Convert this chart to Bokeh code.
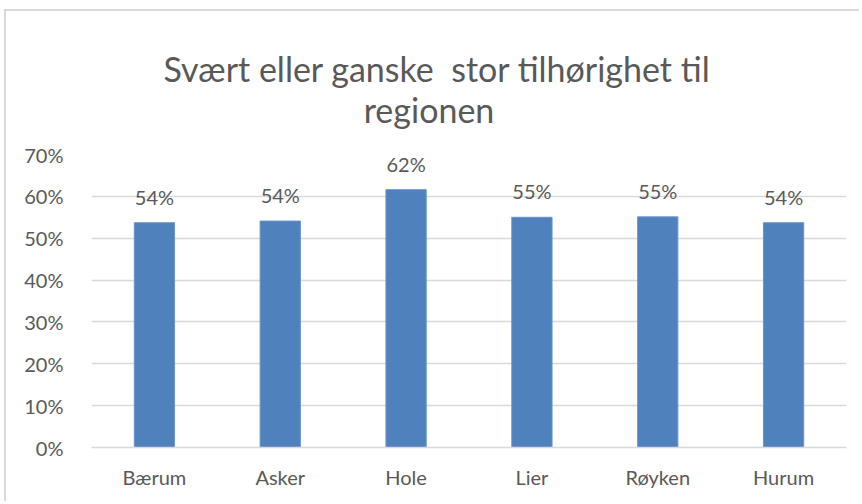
from bokeh.plotting import figure
from bokeh.models import ColumnDataSource, FactorRange, Range1d, NumeralTickFormatter, FixedTicker, Title
from bokeh.core.properties import value
from bokeh.embed import file_html
from bokeh.resources import INLINE

categories = ["Bærum", "Asker", "Hole", "Lier", "Røyken", "Hurum"]
values = [0.537, 0.541, 0.616, 0.550, 0.551, 0.537]
labels = ["54%", "54%", "62%", "55%", "55%", "54%"]
y_ticks = [0, 0.1, 0.2, 0.3, 0.4, 0.5, 0.6, 0.7]
title_line1 = "Svært eller ganske\u00a0 stor tilhørighet til"
title_line2 = "regionen"

FONT = "Lato"
GREY = "#595959"
NB = "\u00a0"

src = ColumnDataSource(dict(cat=categories, val=values, lab=labels))

p = figure(x_range=FactorRange(*categories, range_padding=0),
           y_range=Range1d(0, 0.7),
           width=855, height=492,
           min_border_left=85, min_border_right=15,
           min_border_top=143, min_border_bottom=56,
           output_backend="svg", toolbar_location=None, title=None)

p.add_layout(Title(text=title_line1 + "\n" + NB * 23 + title_line2,
                   align="left", vertical_align="top", offset=72, standoff=44,
                   text_font=FONT, text_font_size="34px", text_font_style="normal",
                   text_line_height=1.02, text_color=GREY), "above")

p.vbar(x="cat", top="val", width=0.32, source=src,
       fill_color="#4F81BD", line_color="#6A95CB", line_width=1)

p.text(x="cat", y="val", text="lab", source=src, y_offset=-26,
       text_align="center", text_baseline="middle",
       text_font=value(FONT), text_font_size="20px", text_color=GREY)

p.outline_line_color = None
p.background_fill_color = "white"
p.border_fill_color = "white"
p.styles = {"border-left": "2px solid #D9D9D9", "border-top": "2px solid #D9D9D9",
            "margin-left": "4px", "margin-top": "9px"}

p.xgrid.grid_line_color = None
p.ygrid.grid_line_color = "#D9D9D9"
p.ygrid.grid_line_width = 1.5

p.yaxis.ticker = FixedTicker(ticks=y_ticks)
p.yaxis.formatter = NumeralTickFormatter(format="0%")
p.yaxis.axis_line_color = None
p.yaxis.major_tick_line_color = None
p.yaxis.minor_tick_line_color = None
p.yaxis.major_label_standoff = 22
p.yaxis.major_label_text_font = FONT
p.yaxis.major_label_text_font_size = "20px"
p.yaxis.major_label_text_color = GREY

p.xaxis.axis_line_color = "#D9D9D9"
p.xaxis.axis_line_width = 1.5
p.xaxis.major_tick_line_color = None
p.xaxis.minor_tick_line_color = None
p.xaxis.major_label_standoff = 11
p.xaxis.major_label_text_font = FONT
p.xaxis.major_label_text_font_size = "20px"
p.xaxis.major_label_text_color = GREY

open("out.html", "w").write(file_html(p, INLINE))
